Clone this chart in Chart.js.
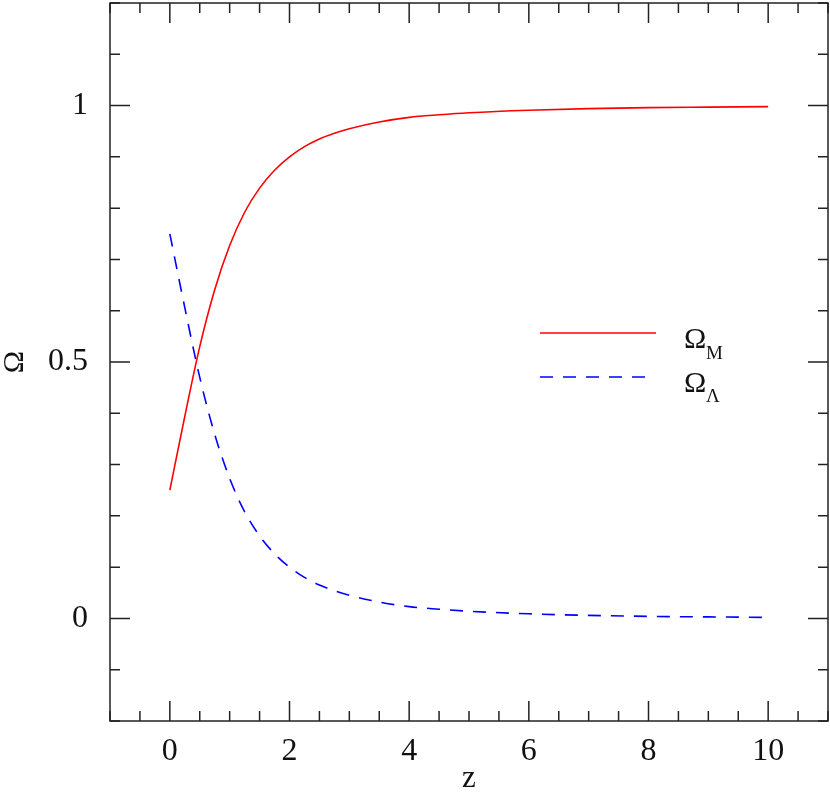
<!DOCTYPE html>
<html>
<head>
<meta charset="utf-8">
<script src="https://cdn.jsdelivr.net/npm/chart.js@4"></script>
<style>
  html, body { margin: 0; padding: 0; background: #fff; }
  #wrap { width: 830px; height: 795px; }
</style>
</head>
<body>
<div id="wrap"><canvas id="myChart" width="830" height="795"></canvas></div>
<script>
// redshift values
const zValues = [0, 0.25, 0.5, 0.75, 1, 1.25, 1.5, 1.75, 2, 2.25, 2.5, 2.75, 3, 3.5, 4, 4.5, 5, 6, 7, 8, 9, 10];
const omegaM = [0.25, 0.394, 0.53, 0.641, 0.727, 0.792, 0.839, 0.874, 0.9, 0.92, 0.935, 0.946, 0.955, 0.968, 0.977, 0.982, 0.986, 0.991, 0.994, 0.996, 0.997, 0.998];
const omegaL = [0.75, 0.606, 0.47, 0.359, 0.273, 0.208, 0.161, 0.126, 0.1, 0.08, 0.065, 0.054, 0.045, 0.032, 0.023, 0.018, 0.014, 0.009, 0.006, 0.004, 0.003, 0.002];
const xLabels = [0, 2, 4, 6, 8, 10];
const yLabels = [0, 0.5, 1];

const serif = "'Liberation Serif', 'DejaVu Serif', serif";

function points(ys) {
  return zValues.map((z, i) => ({ x: z, y: ys[i] }));
}

// прибираємо внутрішні відступи шкал, щоб рамка стала точно на місце
function noPad(scale) {
  scale.paddingTop = 0;
  scale.paddingBottom = 0;
  scale.paddingLeft = 0;
  scale.paddingRight = 0;
}

// рамка і тики всередину, як у SM/pgplot
const frameTicks = {
  id: "frameTicks",
  afterDraw(chart) {
    const c = chart.ctx;
    const a = chart.chartArea;
    const xs = chart.scales.x;
    const ys = chart.scales.y;
    c.save();
    c.strokeStyle = "#222";
    c.lineWidth = 1.5;
    c.strokeRect(a.left, a.top, a.right - a.left, a.bottom - a.top);
    c.beginPath();
    xs.ticks.forEach((t) => {
      const px = xs.getPixelForValue(t.value);
      const major = Math.abs(t.value / 2 - Math.round(t.value / 2)) < 1e-6;
      const len = major ? 20 : 10;
      c.moveTo(px, a.bottom);
      c.lineTo(px, a.bottom - len);
      c.moveTo(px, a.top);
      c.lineTo(px, a.top + len);
    });
    ys.ticks.forEach((t) => {
      const py = ys.getPixelForValue(t.value);
      const major = Math.abs(t.value / 0.5 - Math.round(t.value / 0.5)) < 1e-6;
      const len = major ? 20 : 10;
      c.moveTo(a.left, py);
      c.lineTo(a.left + len, py);
      c.moveTo(a.right, py);
      c.lineTo(a.right - len, py);
    });
    c.stroke();

    // легенда
    c.lineWidth = 1.5;
    c.strokeStyle = "#ff0000";
    c.beginPath();
    c.moveTo(540, 333);
    c.lineTo(656, 333);
    c.stroke();
    c.strokeStyle = "#0000ff";
    c.setLineDash([13, 10]);
    c.beginPath();
    c.moveTo(540, 377);
    c.lineTo(646, 377);
    c.stroke();
    c.setLineDash([]);
    c.fillStyle = "#111";
    c.textBaseline = "alphabetic";
    c.textAlign = "left";
    c.font = "30px " + serif;
    c.fillText("Ω", 684, 348);
    c.fillText("Ω", 684, 392);
    c.font = "19px " + serif;
    c.fillText("M", 706, 359);
    c.fillText("Λ", 706, 402);
    c.restore();
  },
};

const ctx = document.getElementById("myChart").getContext("2d");

let myChart = new Chart(ctx, {
  type: "line",
  data: {
    datasets: [
      {
        label: "ΩM",
        data: points(omegaM),
        borderColor: "#ff0000",
        borderWidth: 1.6,
        pointRadius: 0,
        fill: false,
        cubicInterpolationMode: "monotone",
      },
      {
        label: "ΩΛ",
        data: points(omegaL),
        borderColor: "#0000ff",
        borderWidth: 1.6,
        borderDash: [13, 10],
        pointRadius: 0,
        fill: false,
        cubicInterpolationMode: "monotone",
      },
    ],
  },
  options: {
    animation: false,
    responsive: false,
    maintainAspectRatio: false,
    layout: {
      padding: { top: 3, right: 2, left: 0, bottom: 0 },
    },
    plugins: {
      legend: { display: false },
      tooltip: { enabled: false },
    },
    scales: {
      x: {
        type: "linear",
        min: -1,
        max: 11,
        afterFit(scale) {
          scale.height = 74;
          noPad(scale);
        },
        ticks: {
          stepSize: 0.5,
          autoSkip: false,
          maxRotation: 0,
          padding: 11,
          color: "#111",
          font: { family: serif, size: 32 },
          callback: (v) => (xLabels.includes(v) ? String(v) : ""),
        },
        grid: { display: false, drawTicks: false },
        border: { display: false },
        title: {
          display: true,
          text: "z",
          color: "#111",
          font: { family: serif, size: 31, lineHeight: 1 },
          padding: { top: 0, bottom: 1 },
        },
      },
      y: {
        type: "linear",
        min: -0.2,
        max: 1.2,
        afterFit(scale) {
          scale.width = 110;
          noPad(scale);
        },
        ticks: {
          stepSize: 0.1,
          autoSkip: false,
          padding: 22,
          color: "#111",
          font: { family: serif, size: 32 },
          callback: (v) => {
            const r = Math.round(v * 10) / 10;
            return yLabels.includes(r) ? String(r) : "";
          },
        },
        grid: { display: false, drawTicks: false },
        border: { display: false },
        title: {
          display: true,
          text: "Ω",
          color: "#111",
          font: { family: serif, size: 30, lineHeight: 1 },
          padding: { top: 0, bottom: 0 },
        },
      },
    },
  },
  plugins: [frameTicks],
});
</script>
</body>
</html>
